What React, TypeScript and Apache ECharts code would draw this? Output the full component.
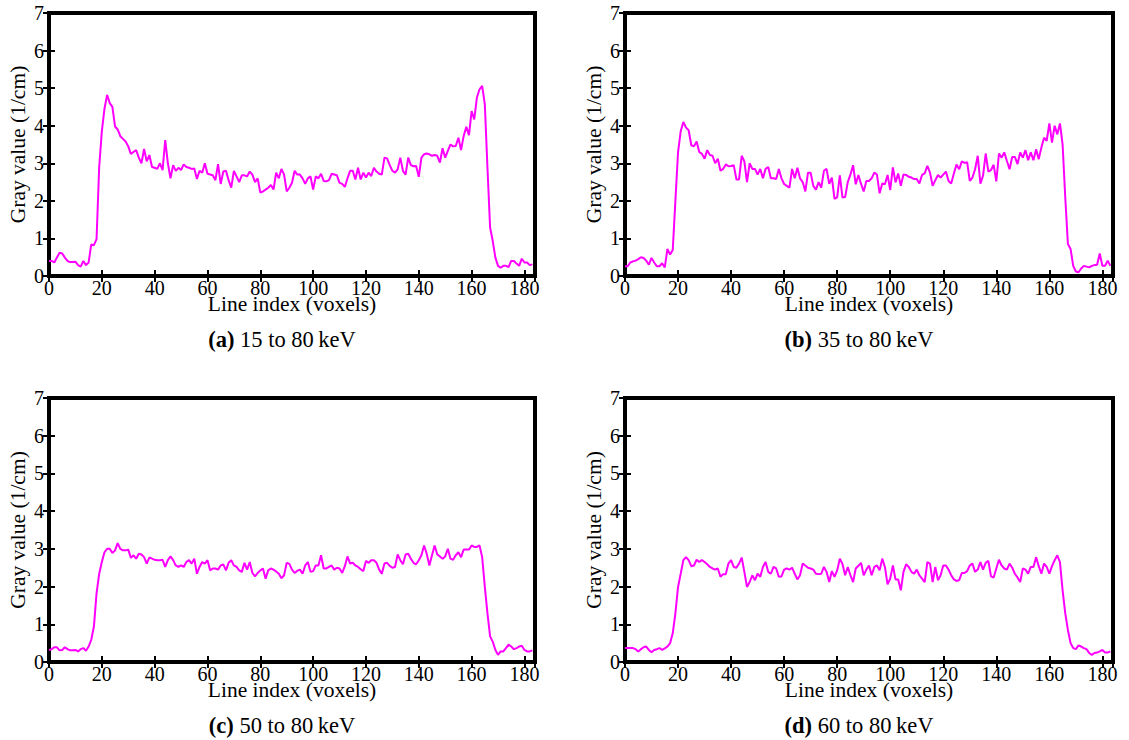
import React, { useEffect, useRef } from "react";
import * as echarts from "echarts";

// Gray value (1/cm) along the line profile, one entry per voxel index (0..183)
const grayA = [
  0.40,0.40,0.36,0.49,0.62,0.60,0.49,0.40,0.37,0.37,0.38,0.29,0.25,0.40,0.29,0.36,0.84,0.82,0.98,
  2.9,3.85,4.45,4.82,4.6,4.5,3.98,3.9,3.72,3.65,3.58,3.45,
  3.25,3.30,3.35,3.15,3.0,3.38,3.05,3.22,2.9,2.88,2.85,3.0,2.82,
  3.62,
  3.0,2.6,2.95,2.8,2.88,2.82,2.97,2.9,2.88,2.85,2.86,2.58,2.8,2.75,3.0,2.72,2.7,2.68,2.55,2.98,2.45,2.78,2.8,2.55,2.35,2.8,2.65,2.5,2.68,2.68,2.65,2.78,2.7,2.5,2.6,2.22,2.25,2.3,2.35,
  2.42,2.3,2.75,2.6,2.85,2.7,2.25,2.35,2.48,2.8,2.7,2.7,2.6,2.45,
  2.6,2.65,2.3,2.65,2.6,2.72,2.53,2.52,2.55,2.72,2.7,2.68,2.48,2.45,2.37,2.6,2.8,2.8,2.57,2.88,2.57,2.75,2.62,2.75,2.66,2.88,2.78,2.72,2.7,3.15,3.13,2.95,2.8,2.75,2.84,3.15,2.8,2.7,3.15,2.95,2.92,2.93,2.64,3.15,3.24,3.26,3.24,3.2,3.22,3.2,3.02,3.4,3.15,3.33,3.5,3.45,3.46,3.68,3.35,3.73,3.97,3.75,4.39,4.17,4.75,4.97,5.06,4.57,2.88,1.29,0.93,0.49,0.27,0.22,0.27,0.27,0.24,0.40,0.40,0.33,0.27,0.46,0.36,0.36,0.29,0.31
];

const grayB = [
  0.26,0.26,0.36,0.39,0.41,0.45,0.50,0.48,0.41,0.30,0.48,0.36,0.26,0.26,0.34,0.23,0.72,0.57,0.69,
  2.0,3.3,3.85,4.1,3.95,3.88,3.48,3.45,3.58,3.3,3.25,3.12,3.35,3.22,3.2,3.0,3.12,2.8,2.85,2.97,2.92,2.93,2.95,
  2.57,2.57,3.2,3.05,2.5,3.0,2.85,2.85,2.7,2.85,2.6,2.85,2.9,2.6,2.6,2.58,2.85,2.6,2.45,2.4,2.35,2.85,2.6,2.88,2.6,2.5,2.25,2.75,2.75,2.4,2.3,2.5,2.35,2.8,2.85,2.45,2.62,2.05,2.1,
  2.68,2.09,2.1,2.5,2.7,2.95,2.44,2.69,2.45,2.25,2.53,2.53,2.6,2.75,2.7,2.2,2.46,2.44,2.69,2.29,2.89,2.49,2.73,2.4,2.7,2.69,2.64,2.62,2.58,2.58,2.46,2.69,2.73,2.93,2.75,2.4,2.55,2.69,2.62,2.7,2.78,2.53,2.46,2.73,2.97,2.84,3.05,3.01,3.03,2.53,2.62,2.84,3.2,2.46,2.67,3.26,2.78,2.82,2.96,2.52,3.26,3.15,3.29,3.06,2.84,3.17,3.17,2.98,3.29,3.15,3.35,3.08,3.29,3.08,3.37,3.11,3.42,3.68,3.6,4.06,3.55,4.0,3.77,4.06,3.5,2.09,0.85,0.72,0.27,0.12,0.1,0.2,0.27,0.25,0.23,0.27,0.29,0.3,0.6,0.27,0.27,0.41,0.27
];

const grayC = [
  0.32,0.34,0.39,0.39,0.31,0.32,0.39,0.34,0.31,0.31,0.32,0.28,0.34,0.37,0.3,0.41,0.59,0.94,1.82,2.34,
  2.65,2.91,3.0,3.0,2.89,2.96,3.15,3.0,2.96,2.96,2.98,2.76,2.83,2.74,2.87,2.85,2.78,2.61,2.77,2.74,
  2.71,2.7,2.7,2.71,2.52,2.7,2.8,2.7,2.56,2.52,2.56,2.52,2.65,2.7,2.61,2.74,2.34,2.52,2.65,2.61,
  2.7,2.43,2.48,2.48,2.45,2.56,2.59,2.43,2.63,2.7,2.56,2.52,2.43,2.39,2.63,2.45,2.65,2.36,2.27,2.36,
  2.43,2.48,2.21,2.43,
  2.48,2.45,2.4,2.34,2.22,2.3,2.63,2.6,2.45,2.36,2.42,2.45,2.34,2.56,2.65,2.39,2.41,2.56,2.56,2.83,2.48,2.48,2.52,2.56,2.45,2.5,2.48,2.36,2.54,2.8,2.61,2.63,2.56,2.52,2.46,2.41,2.68,2.63,2.7,2.7,2.63,2.45,2.34,2.61,2.63,2.55,2.5,2.52,2.85,2.7,2.59,2.85,2.87,2.74,2.63,2.59,2.7,2.83,3.09,2.87,2.56,2.83,3.09,2.85,2.8,2.74,2.8,3.0,2.74,2.71,2.83,2.91,2.78,2.98,2.98,2.98,3.09,3.05,3.05,3.09,2.78,1.99,1.29,0.68,0.54,0.32,0.19,0.28,0.28,0.37,0.46,0.41,0.34,0.37,0.41,0.43,0.32,0.28,0.28,0.31
];

const grayD = [
  0.37,0.37,0.37,0.37,0.34,0.28,0.34,0.39,0.41,0.32,0.26,0.32,0.34,0.37,0.32,0.36,0.41,0.5,0.76,1.29,
  1.99,2.34,2.7,2.78,2.7,2.54,2.56,2.71,2.65,2.7,2.65,2.59,2.52,2.48,2.45,2.48,2.26,2.33,2.33,2.61,
  2.7,2.52,2.5,2.61,2.77,2.39,1.99,2.12,2.3,2.17,2.34,2.26,2.52,2.65,2.39,2.34,2.52,2.48,2.26,2.27,
  2.45,2.48,2.45,2.5,2.34,2.19,2.3,2.61,2.56,2.5,2.48,2.45,2.34,2.33,2.34,2.52,2.39,2.12,2.41,2.26,
  2.43,
  2.74,2.6,2.3,2.52,2.3,2.12,2.48,2.55,2.63,2.3,2.45,2.56,2.3,2.52,2.56,2.43,2.74,2.52,2.06,2.21,2.56,2.19,2.19,1.9,2.39,2.59,2.52,2.39,2.34,2.45,2.3,2.21,2.12,2.65,2.61,2.12,2.52,2.17,2.3,2.56,2.56,2.45,2.3,2.19,2.15,2.17,2.36,2.36,2.41,2.56,2.61,2.39,2.45,2.65,2.45,2.63,2.68,2.27,2.24,2.48,2.71,2.56,2.48,2.45,2.61,2.5,2.34,2.24,2.12,2.48,2.45,2.34,2.52,2.52,2.78,2.54,2.34,2.61,2.52,2.34,2.54,2.7,2.83,2.65,1.9,1.29,0.85,0.5,0.37,0.34,0.44,0.41,0.37,0.34,0.24,0.19,0.24,0.25,0.28,0.32,0.25,0.25,0.28
];

const panelLetters = ["a", "b", "c", "d"];
const energyRanges = ["15 to 80", "35 to 80", "50 to 80", "60 to 80"];
const xTickStep = 20;
const xMax = 184;
const yMax = 7;
const xTitle = "Line index (voxels)";
const yTitle = "Gray value (1/cm)";

const FONT = "Liberation Serif";
const FS_TICK = 20;
const FS_TITLE = 21.5;
const FS_CAPTION = 22.5;

const GRIDS = [
  { left: 49, top: 13, width: 486, height: 263 },
  { left: 625, top: 13, width: 488, height: 263 },
  { left: 49, top: 398, width: 486, height: 264 },
  { left: 625, top: 398, width: 488, height: 264 },
];

export default function App() {
  const ref = useRef<HTMLDivElement>(null);

  useEffect(() => {
    if (!ref.current) return;
    const chart = echarts.init(ref.current, null, { renderer: "svg" });
    const allData = [grayA, grayB, grayC, grayD];

    const grid: any[] = [];
    const xAxis: any[] = [];
    const yAxis: any[] = [];
    const series: any[] = [];
    const graphic: any[] = [];

    const tick = { show: true, inside: true, length: 6, lineStyle: { color: "#000", width: 2 } };

    GRIDS.forEach((g, i) => {
      grid.push({
        ...g,
        show: true,
        borderColor: "#000",
        borderWidth: 4,
        backgroundColor: "transparent",
        containLabel: false,
      });
      xAxis.push({
        type: "value",
        gridIndex: i,
        position: "bottom",
        min: 0,
        max: xMax,
        interval: xTickStep,
        axisLine: { show: false },
        axisTick: tick,
        splitLine: { show: false },
        axisLabel: {
          color: "#000",
          fontFamily: FONT,
          fontSize: FS_TICK,
          margin: 2,
          showMaxLabel: false,
          formatter: (v: number) => (v % xTickStep === 0 ? String(v) : ""),
        },
      });
      xAxis.push({
        type: "value",
        gridIndex: i,
        position: "top",
        min: 0,
        max: xMax,
        interval: xTickStep,
        axisLine: { show: false },
        axisTick: tick,
        splitLine: { show: false },
        axisLabel: { show: false },
      });
      yAxis.push({
        type: "value",
        gridIndex: i,
        position: "left",
        min: 0,
        max: yMax,
        interval: 1,
        axisLine: { show: false },
        axisTick: tick,
        splitLine: { show: false },
        axisLabel: { color: "#000", fontFamily: FONT, fontSize: FS_TICK, margin: 5 },
      });
      yAxis.push({
        type: "value",
        gridIndex: i,
        position: "right",
        min: 0,
        max: yMax,
        interval: 1,
        axisLine: { show: false },
        axisTick: tick,
        splitLine: { show: false },
        axisLabel: { show: false },
      });
      series.push({
        type: "line",
        xAxisIndex: 2 * i,
        yAxisIndex: 2 * i,
        showSymbol: false,
        symbol: "none",
        lineStyle: { color: "#ff00ff", width: 2 },
        data: allData[i].map((v, k) => [k, v]),
      });

      const cx = g.left + g.width / 2;
      const cy = g.top + g.height / 2;
      const bottom = g.top + g.height;
      graphic.push({
        type: "text",
        x: g.left - 31,
        y: cy,
        rotation: Math.PI / 2,
        style: {
          text: yTitle,
          fontFamily: FONT,
          fontSize: FS_TITLE,
          fill: "#000",
          align: "center",
          verticalAlign: "middle",
        },
      });
      graphic.push({
        type: "text",
        x: cx,
        y: bottom + 28,
        style: {
          text: xTitle,
          fontFamily: FONT,
          fontSize: FS_TITLE,
          fill: "#000",
          align: "center",
          verticalAlign: "middle",
        },
      });
      graphic.push({
        type: "text",
        x: cx - 10,
        y: bottom + 63,
        style: {
          text: "{b|(" + panelLetters[i] + ")} " + energyRanges[i] + "\u2009keV",
          fontFamily: FONT,
          fontSize: FS_CAPTION,
          fill: "#000",
          align: "center",
          verticalAlign: "middle",
          rich: {
            b: { fontFamily: FONT, fontSize: FS_CAPTION, fontWeight: "bold", fill: "#000" },
          },
        },
      });
    });

    chart.setOption({
      animation: false,
      backgroundColor: "#fff",
      grid,
      xAxis,
      yAxis,
      series,
      graphic,
    });

    return () => chart.dispose();
  }, []);

  return (
    <div
      ref={ref}
      style={{ position: "fixed", left: 0, top: 0, width: 1129, height: 740 }}
    />
  );
}
